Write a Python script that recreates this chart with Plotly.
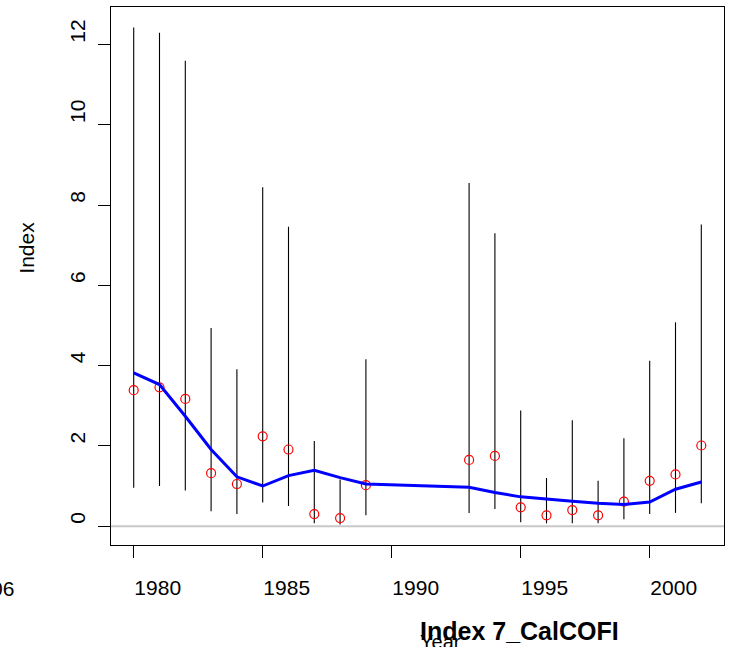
import plotly.graph_objects as go

# ---- data ----
years = [1980, 1981, 1982, 1983, 1984, 1985, 1986, 1987, 1988, 1989,
         1993, 1994, 1995, 1996, 1997, 1998, 1999, 2000, 2001, 2002]
obs = [3.39, 3.46, 3.17, 1.32, 1.05, 2.24, 1.91, 0.30, 0.20, 1.02,
       1.65, 1.75, 0.47, 0.27, 0.40, 0.27, 0.61, 1.13, 1.29, 2.01]
fit = [3.82, 3.53, 2.74, 1.91, 1.23, 1.00, 1.26, 1.39, 1.21, 1.05,
       0.97, 0.84, 0.73, 0.67, 0.62, 0.57, 0.54, 0.60, 0.92, 1.10]
lower = [0.96, 1.00, 0.89, 0.37, 0.30, 0.59, 0.50, 0.07, 0.04, 0.27,
         0.33, 0.43, 0.10, 0.07, 0.07, 0.07, 0.17, 0.30, 0.33, 0.57]
upper = [12.43, 12.30, 11.60, 4.94, 3.91, 8.45, 7.46, 2.12, 1.16, 4.16,
         8.55, 7.30, 2.88, 1.20, 2.64, 1.13, 2.19, 4.12, 5.08, 7.52]
x_ticks = [1980, 1985, 1990, 1995, 2000]
y_ticks = [0, 2, 4, 6, 8, 10, 12]
x_title = "Year"
y_title = "Index"
main_title = "Index 7_CalCOFI"
stray_label = "06"

# ---- layout geometry ----
W, H = 730, 647
L, R, T, B = 111, 6, 7, 102
PW, PH = W - L - R, H - T - B
FONT = "Liberation Sans, Arial, Helvetica, sans-serif"


def px_x(p):  # pixel x -> paper
    return (p - L) / PW


def px_y(p):  # pixel y -> paper
    return (H - B - p) / PH


fig = go.Figure()

# confidence intervals as vertical segments
ex, ey = [], []
for x, lo, hi in zip(years, lower, upper):
    ex += [x, x, None]
    ey += [lo, hi, None]
fig.add_trace(go.Scatter(x=ex, y=ey, mode="lines",
                         line=dict(color="black", width=1.1),
                         hoverinfo="skip", showlegend=False))

# observed index
fig.add_trace(go.Scatter(x=years, y=obs, mode="markers",
                         marker=dict(symbol="circle-open", size=9, color="red",
                                     line=dict(width=1.2, color="red")),
                         showlegend=False))

# fitted index
fig.add_trace(go.Scatter(x=years, y=fit, mode="lines",
                         line=dict(color="#0000ff", width=3),
                         showlegend=False))

# zero reference line
fig.add_shape(type="line", xref="paper", x0=0, x1=1, yref="y", y0=0, y1=0,
              line=dict(color="#c8c8c8", width=2), layer="below")

annotations = []
for v in y_ticks:
    annotations.append(dict(text=str(v), xref="paper", x=px_x(77.5),
                            yref="y", y=v, xanchor="center", yanchor="bottom",
                            textangle=-90, showarrow=False,
                            font=dict(family=FONT, size=21, color="black")))
annotations.append(dict(text=y_title, xref="paper", x=px_x(25.7), yref="paper",
                        y=0.5, xanchor="center", yanchor="bottom", textangle=-90,
                        showarrow=False,
                        font=dict(family=FONT, size=21, color="black")))
annotations.append(dict(text=x_title, xref="paper", x=0.5, yref="paper",
                        y=px_y(642), xanchor="left", yanchor="middle",
                        showarrow=False,
                        font=dict(family=FONT, size=20, color="black")))
annotations.append(dict(text="<b>" + main_title + "</b>", xref="paper", x=0.5,
                        yref="paper", y=px_y(630.6), xanchor="left",
                        yanchor="middle", showarrow=False,
                        font=dict(family=FONT, size=25, color="black")))
annotations.append(dict(text=stray_label, xref="paper", x=px_x(15.5), yref="paper",
                        y=px_y(588.4), xanchor="right", yanchor="middle",
                        showarrow=False,
                        font=dict(family=FONT, size=21, color="black")))

fig.update_layout(
    width=W, height=H,
    margin=dict(l=L, r=R, t=T, b=B, pad=0),
    paper_bgcolor="white", plot_bgcolor="white",
    showlegend=False,
    font=dict(family=FONT, size=21, color="black"),
    annotations=annotations,
    xaxis=dict(range=[1979.12, 2002.88], tickmode="array", tickvals=x_ticks,
               ticktext=[str(v) for v in x_ticks],
               ticks="outside", ticklen=12, tickwidth=1, tickcolor="black",
               showline=True, linecolor="black", linewidth=1, mirror=True,
               showgrid=False, zeroline=False,
               tickfont=dict(family=FONT, size=21, color="black"),
               ticklabelshift=24, ticklabelstandoff=12),
    yaxis=dict(range=[-0.47, 12.94], tickmode="array", tickvals=y_ticks,
               ticks="outside", ticklen=12, tickwidth=1, tickcolor="black",
               showticklabels=False,
               showline=True, linecolor="black", linewidth=1, mirror=True,
               showgrid=False, zeroline=False),
)

fig.write_html("out.html")
